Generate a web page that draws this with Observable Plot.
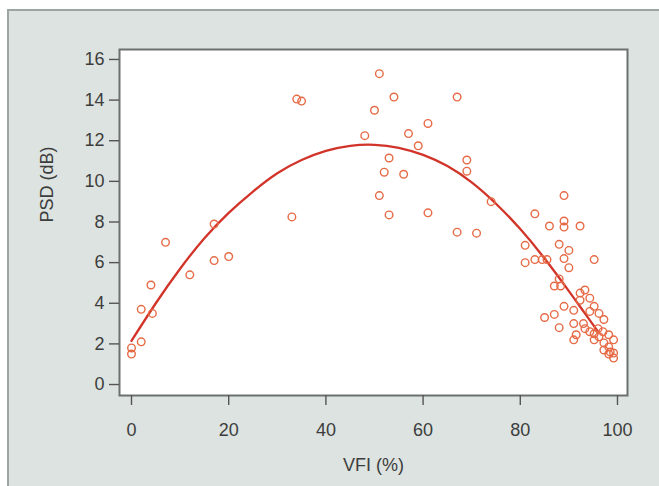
<!DOCTYPE html>
<html><head><meta charset="utf-8">
<script src="https://cdn.jsdelivr.net/npm/d3@7"></script>
<script src="https://cdn.jsdelivr.net/npm/@observablehq/plot@0.6"></script>
<style>
html,body{margin:0;padding:0;background:#ffffff;}
#wrap{position:relative;width:659px;height:486px;overflow:hidden;background:#ffffff;}
#box{position:absolute;left:7px;top:9px;width:700px;height:520px;background:#dce3e0;border-top:2px solid #9da5a2;border-left:2px solid #9da5a2;}
#chart{position:absolute;left:0;top:0;}
</style></head><body>
<div id="wrap"><div id="box"></div><div id="chart"></div></div>
<script>
// Scatter points: VFI (%) and PSD (dB)
const vfi = [0,0,2,2,4,4.3,7,12,17,17,20,
  33,34,35,48,50,51,51,52,53,53,54,56,57,59,61,61,67,67,69,69,71,74,
  81,81,83,83,84.5,85.5,86,85,87,87,88.3,88,88,88,89,89,89,89,90,90,89,91,91,91,
  92.3,92.3,93.3,92.3,93.3,94.3,94.3,94.3,95.2,95.2,95.2,95.2,96.2,96.2,97.2,97.2,97.2,
  98.2,98.2,98.2,99.2,99.2,99.2,96,93,91.5,97,98.5];
const psd = [1.8,1.5,2.1,3.7,4.9,3.5,7.0,5.4,7.9,6.1,6.3,
  8.25,14.05,13.95,12.25,13.5,15.3,9.3,10.45,11.15,8.35,14.15,10.35,12.35,11.75,12.85,8.45,14.15,7.5,11.05,10.5,7.45,9.0,
  6.85,6.0,8.4,6.15,6.15,6.15,7.8,3.3,3.45,4.85,4.85,5.2,6.9,2.8,9.3,8.05,7.75,6.2,6.6,5.75,3.85,3.65,3.0,2.2,
  7.8,4.5,4.65,4.15,2.75,4.25,3.6,2.6,6.15,3.85,2.2,2.5,3.5,2.35,3.2,2.05,1.7,
  2.45,1.85,1.5,2.2,1.55,1.3,2.75,3.0,2.45,2.6,1.6];
// Fitted curve
const fitVfi = [0,5,10,15,20,25,30,35,40,45,50,55,60,65,70,75,80,85,90,93,96];
const fitPsd = [2.15,4.0,5.7,7.2,8.45,9.5,10.4,11.05,11.5,11.75,11.8,11.65,11.3,10.75,9.95,8.9,7.65,6.2,4.6,3.6,2.6];
const xTicks = [0,20,40,60,80,100];
const yTicks = [0,2,4,6,8,10,12,14,16];

const points = vfi.map((v,i)=>({x:v,y:psd[i]}));
const fit = fitVfi.map((v,i)=>({x:v,y:fitPsd[i]}));

const font = "'Liberation Sans', Arial, Helvetica, sans-serif";
const chart = Plot.plot({
  width: 659, height: 486,
  marginLeft: 119, marginRight: 32, marginTop: 49, marginBottom: 91,
  style: {background: "transparent", fontFamily: font, fontSize: "18px", color: "#3d3d3d", overflow: "visible"},
  x: {domain: [-2.47, 102.06]},
  y: {domain: [-0.54, 16.49]},
  marks: [
    Plot.frame({fill: "#ffffff", stroke: "#6b716e", strokeWidth: 2}),
    Plot.axisX({ticks: xTicks, tickSize: 10, tickPadding: 18, label: null, stroke: "#555", strokeWidth: 1.4, tickFormat: d => String(d)}),
    Plot.axisY({ticks: yTicks, tickSize: 10, tickPadding: 5, label: null, stroke: "#555", strokeWidth: 1.4, tickFormat: d => String(d)}),
    Plot.text(["VFI (%)"], {frameAnchor: "bottom", dy: 75, text: d => d, fontSize: 18, fill: "#3d3d3d"}),
    Plot.text(["PSD (dB)"], {frameAnchor: "left", dx: -72, rotate: -90, text: d => d, fontSize: 18, fill: "#3d3d3d"}),
    Plot.line(fit, {x: "x", y: "y", curve: "natural", stroke: "#d2342a", strokeWidth: 2.3}),
    Plot.dot(points, {x: "x", y: "y", r: 3.8, stroke: "#e66a45", strokeWidth: 1.4, fill: "none"})
  ]
});
document.getElementById("chart").appendChild(chart);
</script>
</body></html>
